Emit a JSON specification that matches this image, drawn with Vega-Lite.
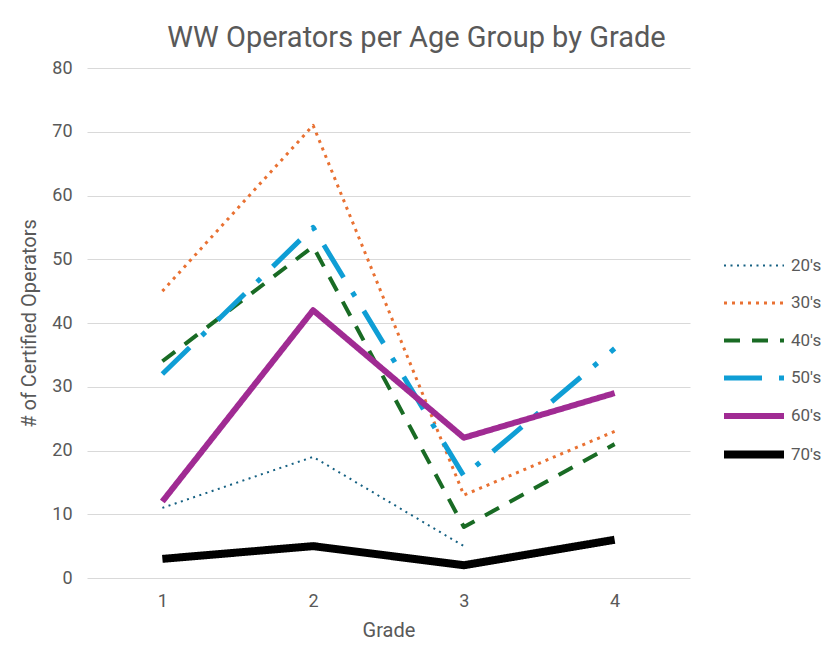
{
  "$schema": "https://vega.github.io/schema/vega-lite/v6.json",
  "autosize": {"type": "none"},
  "width": 603,
  "height": 510,
  "padding": {"left": 87, "top": 68, "right": 131, "bottom": 72},
  "background": "white",
  "title": {
    "text": "WW Operators per Age Group by Grade",
    "font": "Roboto",
    "fontSize": 29,
    "fontWeight": "normal",
    "color": "#595959",
    "anchor": "middle",
    "dx": 28,
    "offset": 6
  },
  "data": {
    "values": [
      {"Age": "20's", "Grade": 1, "Operators": 11},
      {"Age": "20's", "Grade": 2, "Operators": 19},
      {"Age": "20's", "Grade": 3, "Operators": 5},
      {"Age": "30's", "Grade": 1, "Operators": 45},
      {"Age": "30's", "Grade": 2, "Operators": 71},
      {"Age": "30's", "Grade": 3, "Operators": 13},
      {"Age": "30's", "Grade": 4, "Operators": 23},
      {"Age": "40's", "Grade": 1, "Operators": 34},
      {"Age": "40's", "Grade": 2, "Operators": 52},
      {"Age": "40's", "Grade": 3, "Operators": 8},
      {"Age": "40's", "Grade": 4, "Operators": 21},
      {"Age": "50's", "Grade": 1, "Operators": 32},
      {"Age": "50's", "Grade": 2, "Operators": 55},
      {"Age": "50's", "Grade": 3, "Operators": 16},
      {"Age": "50's", "Grade": 4, "Operators": 36},
      {"Age": "60's", "Grade": 1, "Operators": 12},
      {"Age": "60's", "Grade": 2, "Operators": 42},
      {"Age": "60's", "Grade": 3, "Operators": 22},
      {"Age": "60's", "Grade": 4, "Operators": 29},
      {"Age": "70's", "Grade": 1, "Operators": 3},
      {"Age": "70's", "Grade": 2, "Operators": 5},
      {"Age": "70's", "Grade": 3, "Operators": 2},
      {"Age": "70's", "Grade": 4, "Operators": 6}
    ]
  },
  "mark": {"type": "line", "strokeJoin": "round"},
  "encoding": {
    "x": {
      "field": "Grade",
      "type": "ordinal",
      "scale": {"type": "point", "padding": 0.5},
      "axis": {
        "title": "Grade",
        "labelAngle": 0,
        "ticks": false,
        "domain": false,
        "grid": false,
        "labelPadding": 14,
        "titlePadding": 10
      }
    },
    "y": {
      "field": "Operators",
      "type": "quantitative",
      "scale": {"domain": [0, 80]},
      "axis": {
        "title": "# of Certified Operators",
        "values": [0, 10, 20, 30, 40, 50, 60, 70, 80],
        "ticks": false,
        "domain": false,
        "labelPadding": 15,
        "titlePadding": 12
      }
    },
    "color": {
      "field": "Age",
      "type": "nominal",
      "scale": {
        "domain": ["20's", "30's", "40's", "50's", "60's", "70's"],
        "range": ["#156082", "#E97132", "#196B24", "#0F9ED5", "#A02B93", "#000000"]
      },
      "legend": {
        "title": null,
        "orient": "none",
        "legendX": 681,
        "legendY": 189,
        "symbolType": "M-9,0H1",
        "symbolSize": 144,
        "symbolFillColor": "transparent",
        "labelFont": "Roboto",
        "labelFontSize": 17,
        "labelColor": "#595959",
        "gridAlign": "all",
        "rowPadding": 5.5,
        "labelOffset": 3
      }
    },
    "strokeDash": {
      "field": "Age",
      "type": "nominal",
      "scale": {
        "domain": ["20's", "30's", "40's", "50's", "60's", "70's"],
        "range": [[2, 4.5], [3, 5], [16, 12], [38, 17, 5, 17], [1, 0], [1, 0]]
      }
    },
    "strokeWidth": {
      "field": "Age",
      "type": "ordinal",
      "scale": {
        "type": "ordinal",
        "domain": ["20's", "30's", "40's", "50's", "60's", "70's"],
        "range": [2, 3, 4, 5, 6, 8]
      }
    }
  },
  "config": {
    "font": "Roboto",
    "view": {"stroke": null},
    "axis": {
      "labelFont": "Roboto",
      "labelFontSize": 18,
      "labelColor": "#595959",
      "titleFont": "Roboto",
      "titleFontSize": 20,
      "titleFontWeight": "normal",
      "titleColor": "#595959",
      "gridColor": "#D9D9D9",
      "gridWidth": 1
    }
  }
}
